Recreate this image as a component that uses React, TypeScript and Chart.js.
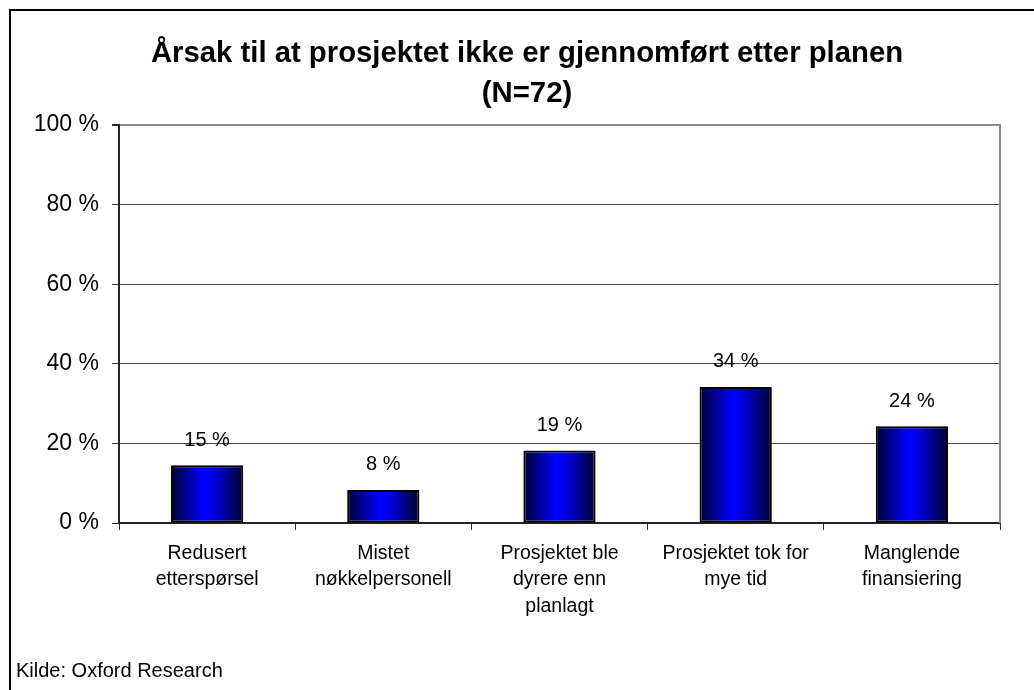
import React, { useEffect, useRef } from 'react';
import { Chart, registerables } from 'chart.js';

Chart.register(...registerables);

const titleLines = ['Årsak til at prosjektet ikke er gjennomført etter planen', '(N=72)'];
const categories = [
  ['Redusert', 'etterspørsel'],
  ['Mistet', 'nøkkelpersonell'],
  ['Prosjektet ble', 'dyrere enn', 'planlagt'],
  ['Prosjektet tok for', 'mye tid'],
  ['Manglende', 'finansiering'],
];
const values = [14.5, 8.3, 18.2, 34.2, 24.3];
const valueLabels = ['15 %', '8 %', '19 %', '34 %', '24 %'];
const yMin = 0;
const yMax = 100;
const yStep = 20;
const sourceText = 'Kilde: Oxford Research';

const FONT = "'Liberation Sans', Arial, sans-serif";
const BAR_PCT = 0.41;

const decorPlugin = {
  id: 'decor',
  beforeDraw(chart: any) {
    const { ctx, width, height } = chart;
    ctx.save();
    ctx.fillStyle = '#ffffff';
    ctx.fillRect(0, 0, width, height);
    ctx.restore();
  },
  afterDatasetsDraw(chart: any) {
    const { ctx } = chart;
    const meta = chart.getDatasetMeta(0);
    ctx.save();
    ctx.fillStyle = '#000';
    ctx.font = `20px ${FONT}`;
    ctx.textAlign = 'center';
    ctx.textBaseline = 'middle';
    meta.data.forEach((bar: any, i: number) => {
      ctx.fillText(valueLabels[i], bar.x, bar.y - 25);
    });
    ctx.restore();
  },
  afterDraw(chart: any) {
    const { ctx, chartArea } = chart;
    ctx.save();
    // plot area right border
    ctx.strokeStyle = '#8c8c8c';
    ctx.lineWidth = 2;
    ctx.beginPath();
    ctx.moveTo(chartArea.right, chartArea.top - 1);
    ctx.lineTo(chartArea.right, chartArea.bottom);
    ctx.stroke();
    // outer frame
    ctx.strokeStyle = '#000';
    ctx.lineWidth = 2;
    ctx.strokeRect(10, 10, 1100, 1100);
    // title
    ctx.fillStyle = '#000';
    ctx.font = `bold 29.3px ${FONT}`;
    ctx.textAlign = 'center';
    ctx.textBaseline = 'alphabetic';
    titleLines.forEach((t, i) => ctx.fillText(t, 527, 62 + i * 40));
    // source
    ctx.font = `20px ${FONT}`;
    ctx.textAlign = 'left';
    ctx.fillText(sourceText, 16, 677);
    ctx.restore();
  },
};

export default function App() {
  const ref = useRef<HTMLCanvasElement | null>(null);
  useEffect(() => {
    if (!ref.current) return;
    const chart = new Chart(ref.current, {
      type: 'bar',
      data: {
        labels: categories,
        datasets: [
          {
            data: values,
            backgroundColor: (c: any) => {
              const ch = c.chart;
              const area = ch.chartArea;
              const xs = ch.scales?.x;
              if (!area || !xs) return '#0000ff';
              const cx = xs.getPixelForValue(c.dataIndex);
              const w = ((area.right - area.left) / categories.length) * BAR_PCT;
              const g = ch.ctx.createLinearGradient(cx - w / 2, 0, cx + w / 2, 0);
              g.addColorStop(0, '#00002e');
              g.addColorStop(0.45, '#0000ff');
              g.addColorStop(0.55, '#0000f5');
              g.addColorStop(1, '#00002e');
              return g;
            },
            borderColor: '#000000',
            borderWidth: 2,
            borderSkipped: false,
            categoryPercentage: 1,
            barPercentage: BAR_PCT,
          },
        ],
      },
      options: {
        responsive: false,
        animation: false,
        layout: { padding: { left: 0, right: 34, top: 125, bottom: 0 } },
        plugins: {
          legend: { display: false },
          tooltip: { enabled: false },
          title: { display: false },
        },
        scales: {
          x: {
            grid: {
              display: true,
              offset: true,
              drawOnChartArea: false,
              drawTicks: true,
              tickLength: 7,
              color: '#333',
              lineWidth: 1,
            },
            border: { display: true, color: '#222', width: 2 },
            ticks: {
              color: '#000',
              font: { family: FONT, size: 19.5, lineHeight: 1.36 },
              padding: 10,
              maxRotation: 0,
              autoSkip: false,
            },
            afterFit: (s: any) => {
              s.height = 690 - 523;
            },
          },
          y: {
            min: yMin,
            max: yMax,
            ticks: {
              stepSize: yStep,
              color: '#000',
              font: { family: FONT, size: 23 },
              padding: 13,
              callback: (v: any) => `${v} %`,
            },
            grid: {
              color: (c: any) => (c.tick && c.tick.value === yMax ? '#8c8c8c' : '#404040'),
              lineWidth: (c: any) => (c.tick && c.tick.value === yMax ? 2 : 1),
              tickColor: '#333',
              tickLength: 7,
              drawTicks: true,
            },
            border: { display: true, color: '#222', width: 2 },
            afterFit: (s: any) => {
              s.width = 119;
            },
          },
        },
      },
      plugins: [decorPlugin],
    } as any);
    return () => chart.destroy();
  }, []);
  return (
    <div style={{ position: 'absolute', left: 0, top: 0, width: 1034, height: 690 }}>
      <canvas ref={ref} width={1034} height={690} style={{ display: 'block' }} />
    </div>
  );
}
